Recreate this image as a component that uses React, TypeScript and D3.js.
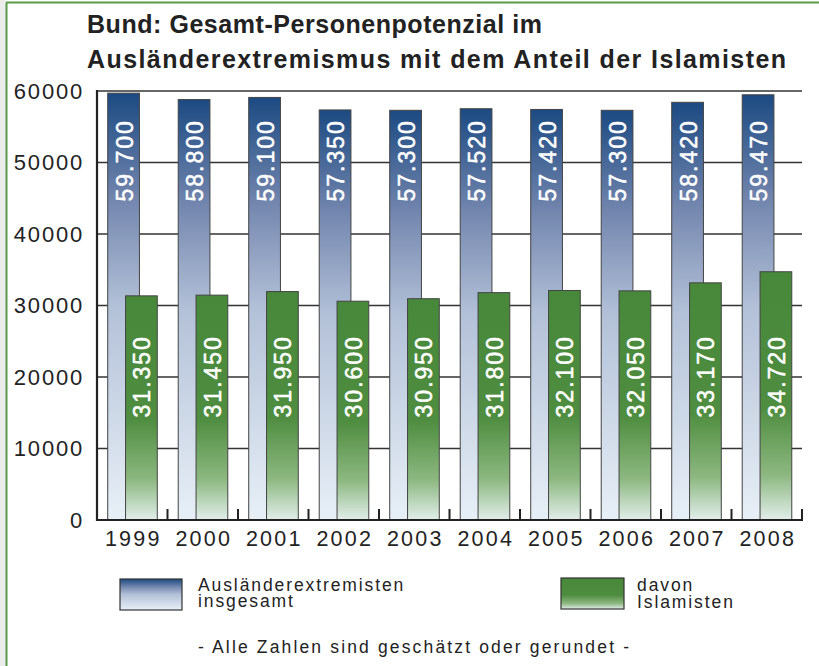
import * as d3 from "d3";

const years = ["1999", "2000", "2001", "2002", "2003", "2004", "2005", "2006", "2007", "2008"];
const gesamt = [59700, 58800, 59100, 57350, 57300, 57520, 57420, 57300, 58420, 59470];
const islamisten = [31350, 31450, 31950, 30600, 30950, 31800, 32100, 32050, 33170, 34720];
const yTicks = [0, 10000, 20000, 30000, 40000, 50000, 60000];

const titleLines = [
  "Bund: Gesamt-Personenpotenzial im",
  "Ausländerextremismus mit dem Anteil der Islamisten",
];
const legendGesamt = ["Ausländerextremisten", "insgesamt"];
const legendIslam = ["davon", "Islamisten"];
const footnote = "- Alle Zahlen sind geschätzt oder gerundet -";

const font = "'Liberation Sans', Arial, Helvetica, sans-serif";
const de = d3.formatLocale({ decimal: ",", thousands: ".", grouping: [3], currency: ["", " €"] });
const fmt = de.format(",d");

export default function App() {
  const W = 819;
  const H = 666;
  const left = 97;
  const right = 802;
  const top = 91;
  const bottom = 520;

  const x = d3.scaleBand<string>().domain(years).range([left, right]).padding(0);
  const y = d3.scaleLinear().domain([0, 60000]).range([bottom, top]);
  const bw = x.bandwidth();
  const barW = bw * 0.45;
  const blueOff = bw * 0.152;
  const greenOff = bw * 0.405;

  // feste Position der Beschriftungen (wie im Original)
  const blueLabelY = y(50300);
  const greenLabelY = y(20100);
  const titleWidths = [455, 699];

  return (
    <svg
      width={W}
      height={H}
      style={{ position: "absolute", left: 0, top: 0, background: "#fff" }}
      fontFamily={font}
    >
      <defs>
        <linearGradient id="gBlue" x1="0" y1="0" x2="0" y2="1">
          <stop offset="0" stopColor="#1c4a82" />
          <stop offset="0.25" stopColor="#7386ae" />
          <stop offset="0.5" stopColor="#b3c1d8" />
          <stop offset="1" stopColor="#e8f0f7" />
        </linearGradient>
        <linearGradient id="gGreen" x1="0" y1="0" x2="0" y2="1">
          <stop offset="0" stopColor="#47883a" />
          <stop offset="0.55" stopColor="#4f8d40" />
          <stop offset="0.82" stopColor="#8db881" />
          <stop offset="1" stopColor="#e2eeeb" />
        </linearGradient>
      </defs>

      {/* Rahmen */}
      <rect x={0} y={0} width={6} height={H} fill="#ececec" />
      <line x1={6.5} y1={2.5} x2={6.5} y2={H} stroke="#5a9a48" strokeWidth={2} />
      <line x1={6} y1={2.5} x2={W} y2={2.5} stroke="#5a9a48" strokeWidth={2} />

      {/* Titel */}
      {titleLines.map((t, i) => (
        <text
          key={t}
          x={87}
          y={33 + i * 35}
          fontSize={25}
          fontWeight="bold"
          fill="#222"
          textLength={titleWidths[i]}
          lengthAdjust="spacing"
        >
          {t}
        </text>
      ))}

      {/* Gitternetz */}
      {yTicks.filter((t) => t > 0).map((t) => (
        <line key={t} x1={left} x2={right} y1={y(t)} y2={y(t)} stroke="#333" strokeWidth={1.3} />
      ))}

      {/* Y-Beschriftung */}
      {yTicks.map((t) => (
        <text
          key={t}
          x={84}
          y={y(t)}
          textAnchor="end"
          dominantBaseline="central"
          fontSize={22}
          letterSpacing={1.8}
          fill="#222"
        >
          {t}
        </text>
      ))}

      {/* Balken gesamt */}
      {years.map((yr, i) => (
        <rect
          key={"b" + yr}
          x={(x(yr) ?? 0) + blueOff}
          y={y(gesamt[i])}
          width={barW}
          height={bottom - y(gesamt[i])}
          fill="url(#gBlue)"
          stroke="#444"
          strokeWidth={1}
        />
      ))}
      {years.map((yr, i) => (
        <text
          key={"bl" + yr}
          transform={`translate(${(x(yr) ?? 0) + blueOff + barW / 2 + 1},${blueLabelY}) rotate(-90)`}
          textAnchor="middle"
          dominantBaseline="central"
          fontSize={23}
          letterSpacing={2}
          fill="#fff"
          stroke="#fff"
          strokeWidth={0.5}
        >
          {fmt(gesamt[i])}
        </text>
      ))}

      {/* Balken Islamisten */}
      {years.map((yr, i) => (
        <rect
          key={"g" + yr}
          x={(x(yr) ?? 0) + greenOff}
          y={y(islamisten[i])}
          width={barW}
          height={bottom - y(islamisten[i])}
          fill="url(#gGreen)"
          stroke="#444"
          strokeWidth={1}
        />
      ))}
      {years.map((yr, i) => (
        <text
          key={"gl" + yr}
          transform={`translate(${(x(yr) ?? 0) + greenOff + barW / 2 + 1},${greenLabelY}) rotate(-90)`}
          textAnchor="middle"
          dominantBaseline="central"
          fontSize={23}
          letterSpacing={2}
          fill="#fff"
          stroke="#fff"
          strokeWidth={0.5}
        >
          {fmt(islamisten[i])}
        </text>
      ))}

      {/* Achsen */}
      <line x1={left} x2={left} y1={top - 1} y2={bottom + 1} stroke="#222" strokeWidth={2.2} />
      <line x1={left - 1} x2={right + 1} y1={bottom} y2={bottom} stroke="#222" strokeWidth={2.2} />
      {years.map((yr) => (
        <line
          key={"t" + yr}
          x1={(x(yr) ?? 0) + bw}
          x2={(x(yr) ?? 0) + bw}
          y1={bottom}
          y2={bottom - 11}
          stroke="#222"
          strokeWidth={2}
        />
      ))}
      {years.map((yr) => (
        <text
          key={"x" + yr}
          x={(x(yr) ?? 0) + bw / 2 + 1}
          y={546}
          textAnchor="middle"
          fontSize={21.5}
          letterSpacing={2.2}
          fill="#222"
        >
          {yr}
        </text>
      ))}

      {/* Legende */}
      <rect x={120} y={579} width={62} height={31} fill="url(#gBlue)" stroke="#333" strokeWidth={1.2} />
      {legendGesamt.map((t, i) => (
        <text key={t} x={198} y={591 + i * 16} fontSize={17.5} letterSpacing={1.9} fill="#222">
          {t}
        </text>
      ))}
      <rect x={561} y={578} width={63} height={31} fill="url(#gGreen)" stroke="#333" strokeWidth={1.2} />
      {legendIslam.map((t, i) => (
        <text key={t} x={637} y={591 + i * 17} fontSize={17.5} letterSpacing={1.9} fill="#222">
          {t}
        </text>
      ))}

      <text x={198} y={653} fontSize={17.5} letterSpacing={2.15} fill="#222">
        {footnote}
      </text>
    </svg>
  );
}
